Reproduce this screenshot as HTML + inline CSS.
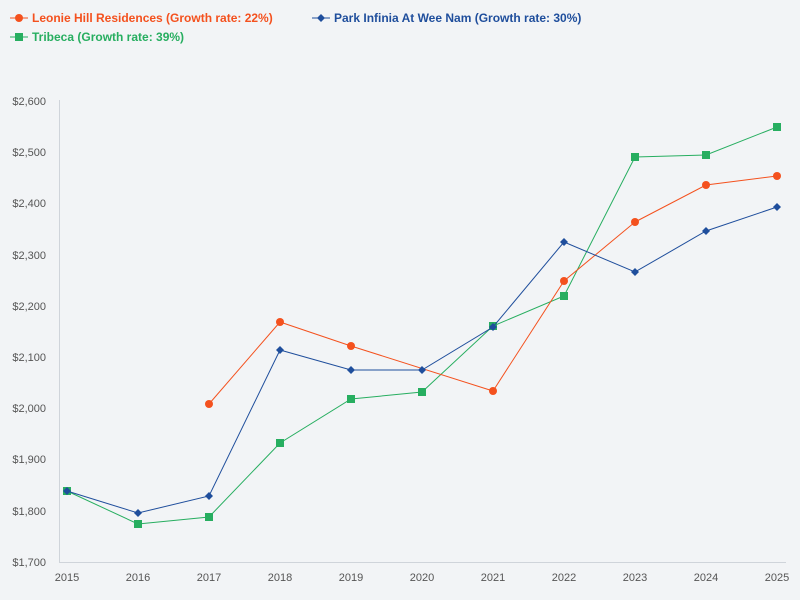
<!DOCTYPE html>
<html><head><meta charset="utf-8"><style>
html,body{margin:0;padding:0;background:#f2f4f6;}
svg{display:block;font-family:"Liberation Sans",sans-serif;}
</style></head><body>
<svg width="800" height="600" viewBox="0 0 800 600">
<rect width="800" height="600" fill="#f2f4f6"/>
<!-- legend -->
<line x1="10" y1="18" x2="28" y2="18" stroke="#f4511e" stroke-width="1"/>
<circle cx="19" cy="18" r="4" fill="#f4511e"/>
<text x="32" y="22" font-size="12" font-weight="bold" fill="#f4511e">Leonie Hill Residences (Growth rate: 22%)</text>
<line x1="312" y1="18" x2="330" y2="18" stroke="#1f4e9c" stroke-width="1"/>
<path d="M321 14 L325 18 L321 22 L317 18Z" fill="#1f4e9c"/>
<text x="334" y="22" font-size="12" font-weight="bold" fill="#1f4e9c">Park Infinia At Wee Nam (Growth rate: 30%)</text>
<line x1="10" y1="37" x2="28" y2="37" stroke="#27ae60" stroke-width="1"/>
<rect x="15" y="33" width="8" height="8" fill="#27ae60"/>
<text x="32" y="41" font-size="12" font-weight="bold" fill="#27ae60">Tribeca (Growth rate: 39%)</text>
<!-- axes -->
<line x1="59.5" y1="100" x2="59.5" y2="562" stroke="#cfd4da"/>
<line x1="59" y1="562.5" x2="786" y2="562.5" stroke="#cfd4da"/>
<g font-size="11" fill="#555" text-anchor="end">
<text x="46" y="105">$2,600</text><text x="46" y="156">$2,500</text><text x="46" y="207">$2,400</text>
<text x="46" y="259">$2,300</text><text x="46" y="310">$2,200</text><text x="46" y="361">$2,100</text>
<text x="46" y="412">$2,000</text><text x="46" y="463">$1,900</text><text x="46" y="515">$1,800</text>
<text x="46" y="566">$1,700</text>
</g>
<g font-size="11" fill="#555" text-anchor="middle">
<text x="67" y="581">2015</text><text x="138" y="581">2016</text><text x="209" y="581">2017</text>
<text x="280" y="581">2018</text><text x="351" y="581">2019</text><text x="422" y="581">2020</text>
<text x="493" y="581">2021</text><text x="564" y="581">2022</text><text x="635" y="581">2023</text>
<text x="706" y="581">2024</text><text x="777" y="581">2025</text>
</g>
<!-- Tribeca -->
<polyline fill="none" stroke="#27ae60" stroke-width="1" points="67,491 138,524 209,517 280,443 351,399 422,392 493,326 564,296 635,157 706,155 777,127"/>
<g fill="#27ae60">
<rect x="63" y="487" width="8" height="8"/><rect x="134" y="520" width="8" height="8"/><rect x="205" y="513" width="8" height="8"/>
<rect x="276" y="439" width="8" height="8"/><rect x="347" y="395" width="8" height="8"/><rect x="418" y="388" width="8" height="8"/>
<rect x="489" y="322" width="8" height="8"/><rect x="560" y="292" width="8" height="8"/><rect x="631" y="153" width="8" height="8"/>
<rect x="702" y="151" width="8" height="8"/><rect x="773" y="123" width="8" height="8"/>
</g>
<!-- Leonie -->
<polyline fill="none" stroke="#f4511e" stroke-width="1" points="209,404 280,322 351,346 493,391 564,281 635,222 706,185 777,176"/>
<g fill="#f4511e">
<circle cx="209" cy="404" r="4"/><circle cx="280" cy="322" r="4"/><circle cx="351" cy="346" r="4"/>
<circle cx="493" cy="391" r="4"/><circle cx="564" cy="281" r="4"/><circle cx="635" cy="222" r="4"/>
<circle cx="706" cy="185" r="4"/><circle cx="777" cy="176" r="4"/>
</g>
<!-- Park -->
<polyline fill="none" stroke="#1f4e9c" stroke-width="1" points="67,491 138,513 209,496 280,350 351,370 422,370 493,327 564,242 635,272 706,231 777,207"/>
<g fill="#1f4e9c">
<path d="M67 487l4 4-4 4-4-4z"/><path d="M138 509l4 4-4 4-4-4z"/><path d="M209 492l4 4-4 4-4-4z"/>
<path d="M280 346l4 4-4 4-4-4z"/><path d="M351 366l4 4-4 4-4-4z"/><path d="M422 366l4 4-4 4-4-4z"/>
<path d="M493 323l4 4-4 4-4-4z"/><path d="M564 238l4 4-4 4-4-4z"/><path d="M635 268l4 4-4 4-4-4z"/>
<path d="M706 227l4 4-4 4-4-4z"/><path d="M777 203l4 4-4 4-4-4z"/>
</g>
</svg>
</body></html>
